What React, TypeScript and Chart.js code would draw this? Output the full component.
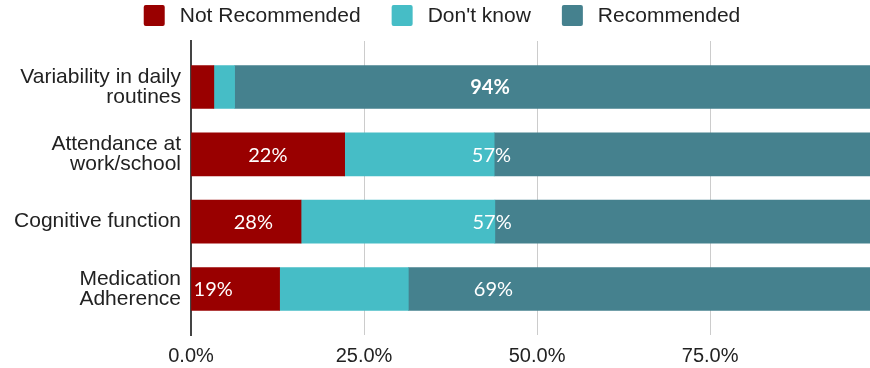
import React, { useEffect, useRef } from "react";
import { Chart, registerables } from "chart.js";

Chart.register(...registerables);

// ---- data ----
const categories: (string | string[])[] = [
  ["Variability in daily", "routines"],
  ["Attendance at", "work/school"],
  "Cognitive function",
  ["Medication", "Adherence"],
];
const seriesNames = ["Not Recommended", "Don't know", "Recommended"];
const notRecommended = [3.3, 22.2, 15.9, 12.8];
const dontKnow = [3.0, 21.6, 28.0, 18.6];
const recommended = [93.7, 56.2, 56.1, 68.6];
const xTicks = [0, 25, 50, 75];

// labels shown on bars (text + value position along x)
const notRecLabels = ["", "22%", "28%", "19%"];
const notRecLabelAt = [0, 11.1, 9.0, 3.2];
const recLabels = ["94%", "57%", "57%", "69%"];
const recLabelAt = [43.2, 43.4, 43.5, 43.7];
const recLabelBold = [true, false, false, false];

const colors = ["#990000", "#46bdc6", "#45818e"];

const legendPlugin = {
  id: "customLegend",
  afterDraw(chart: any) {
    const ctx = chart.ctx;
    ctx.save();
    ctx.font = '21px "Liberation Sans", Arial, sans-serif';
    const box = 21;
    const gapText = 15;
    const gapItem = 31;
    const widths = seriesNames.map((n) => ctx.measureText(n).width);
    const total =
      widths.reduce((a, b) => a + b, 0) +
      seriesNames.length * (box + gapText) +
      (seriesNames.length - 1) * gapItem;
    let x = (chart.width - total) / 2 + 7;
    const top = 5;
    seriesNames.forEach((n, i) => {
      ctx.fillStyle = colors[i];
      ctx.beginPath();
      (ctx as any).roundRect(x, top, box, box, 2);
      ctx.fill();
      x += box + gapText;
      ctx.fillStyle = "#222";
      ctx.textBaseline = "middle";
      ctx.textAlign = "left";
      ctx.fillText(n, x, top + box / 2 + 1);
      x += widths[i] + gapItem;
    });
    ctx.restore();
  },
};

const barLabelPlugin = {
  id: "barLabels",
  afterDatasetsDraw(chart: any) {
    const ctx = chart.ctx;
    const xs = chart.scales.x;
    const ys = chart.scales.y;
    ctx.save();
    ctx.fillStyle = "#ffffff";
    ctx.textAlign = "center";
    ctx.textBaseline = "middle";
    const draw = (texts: string[], at: number[], bold?: boolean[]) => {
      texts.forEach((t, i) => {
        if (!t) return;
        ctx.font = `${bold && bold[i] ? "bold " : ""}20px Lato, "Liberation Sans", sans-serif`;
        ctx.fillText(t, xs.getPixelForValue(at[i]), ys.getPixelForValue(i) + 1);
      });
    };
    draw(notRecLabels, notRecLabelAt);
    draw(recLabels, recLabelAt, recLabelBold);
    ctx.restore();
  },
};

export default function App() {
  const ref = useRef<HTMLCanvasElement>(null);
  useEffect(() => {
    document.body.style.margin = "0";
    const mk = (vals: number[]) => vals.map((v, i) => ({ x: v, y: i }));
    const chart = new Chart(ref.current!, {
      type: "bar",
      data: {
        datasets: [
          { label: seriesNames[0], data: mk(notRecommended), backgroundColor: colors[0], barThickness: 43 },
          { label: seriesNames[1], data: mk(dontKnow), backgroundColor: colors[1], barThickness: 43 },
          { label: seriesNames[2], data: mk(recommended), backgroundColor: colors[2], barThickness: 43 },
        ] as any,
      },
      options: {
        indexAxis: "y",
        animation: false,
        responsive: false,
        layout: { padding: { top: 41, left: 0, right: 0, bottom: 0 } },
        plugins: { legend: { display: false }, tooltip: { enabled: false } },
        scales: {
          x: {
            type: "linear",
            stacked: true,
            min: 0,
            max: 98.1,
            afterBuildTicks: (s: any) => {
              s.ticks = xTicks.map((v) => ({ value: v }));
            },
            afterFit: (s: any) => {
              s.paddingLeft = 0;
              s.paddingRight = 0;
              s.height = 33;
            },
            ticks: {
              padding: 9,
              color: "#222",
              font: { family: '"Liberation Sans", Arial, sans-serif', size: 20 },
              callback: (v: any) => Number(v).toFixed(1) + "%",
            },
            grid: { color: "#cccccc", lineWidth: 1, drawTicks: false },
            border: { display: false },
          },
          y: {
            type: "linear",
            stacked: true,
            reverse: true,
            offset: false,
            min: -0.684,
            max: 3.684,
            afterBuildTicks: (s: any) => {
              s.ticks = categories.map((_, i) => ({ value: i }));
            },
            afterFit: (s: any) => {
              s.width = 191;
              s.paddingTop = 0;
              s.paddingBottom = 0;
            },
            ticks: {
              padding: 10,
              color: "#222",
              font: { family: '"Liberation Sans", Arial, sans-serif', size: 21, lineHeight: 0.97 },
              callback: (v: any) => categories[Number(v)] as any,
            },
            grid: { display: false, drawTicks: false },
            border: { display: true, color: "#444", width: 2 },
          },
        },
      } as any,
      plugins: [legendPlugin, barLabelPlugin],
    });
    return () => chart.destroy();
  }, []);
  return (
    <div style={{ width: 870, height: 368 }}>
      <canvas ref={ref} width={870} height={368} />
    </div>
  );
}
